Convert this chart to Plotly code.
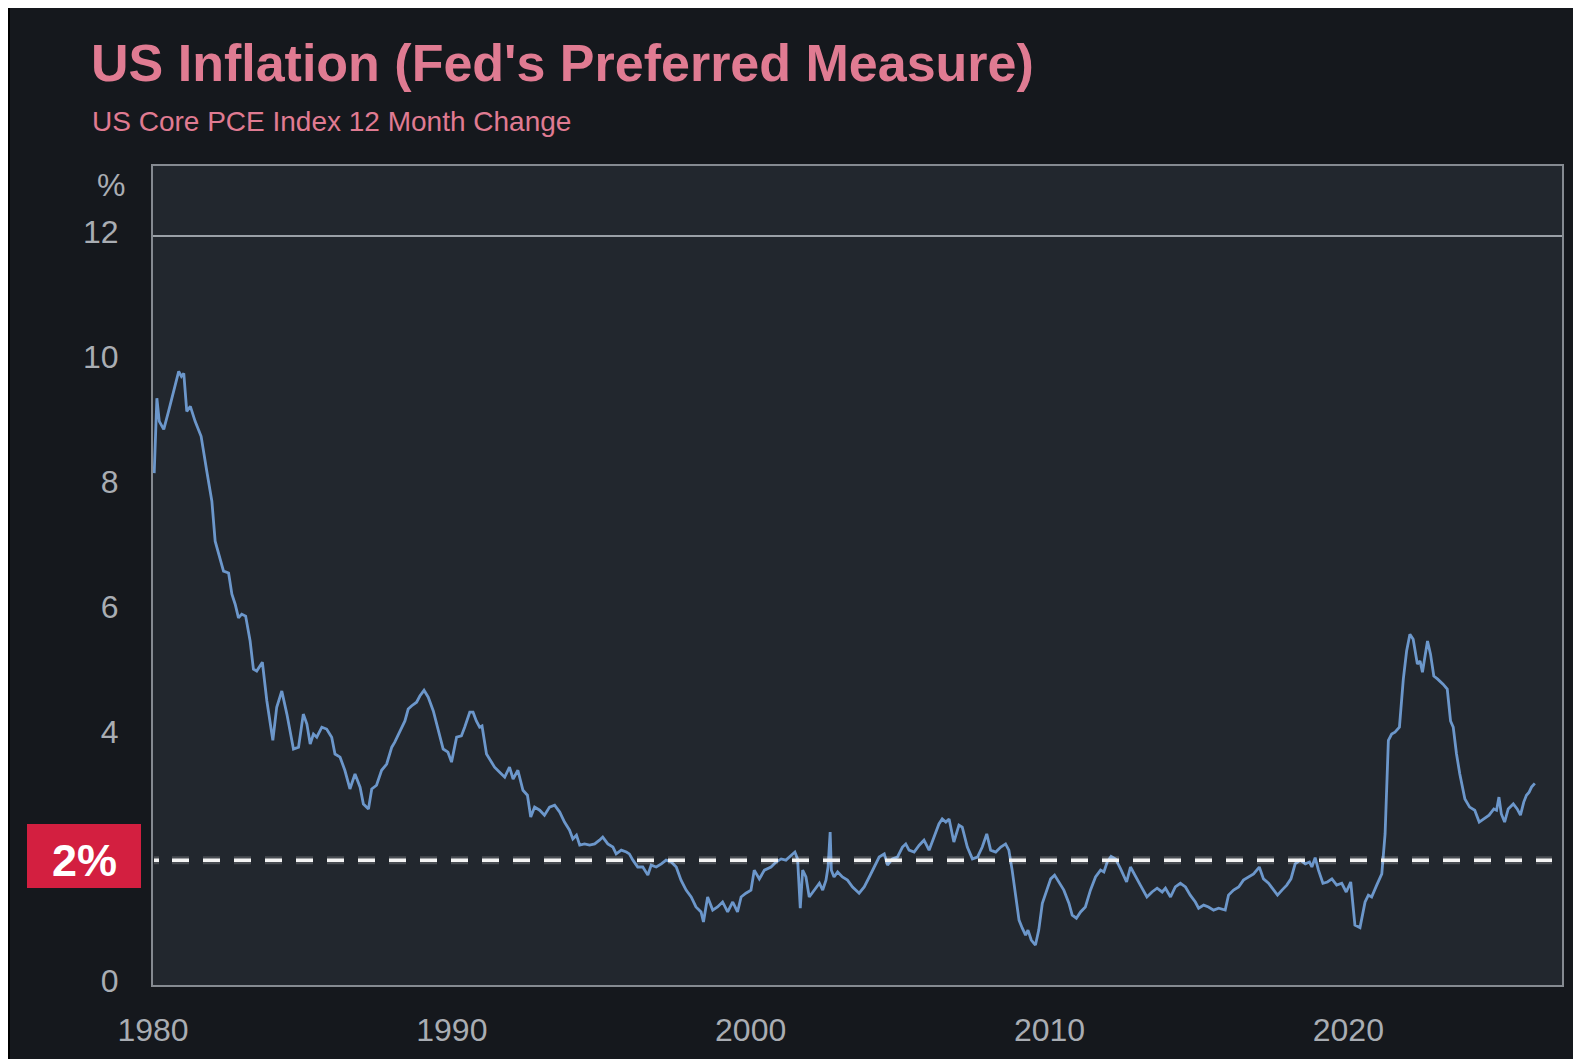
import plotly.graph_objects as go

# ---- data ----
years = [1980.04, 1980.13, 1980.21, 1980.36, 1980.52, 1980.69, 1980.86, 1980.95, 1981.03, 1981.13,
         1981.25, 1981.41, 1981.61, 1981.80, 1981.97, 1982.08, 1982.25, 1982.36, 1982.53, 1982.64,
         1982.75, 1982.86, 1982.97, 1983.10, 1983.25, 1983.36, 1983.47, 1983.66, 1983.81, 1984.01,
         1984.14, 1984.31, 1984.48, 1984.70, 1984.87, 1985.03, 1985.15, 1985.26, 1985.37, 1985.48,
         1985.65, 1985.81, 1985.98, 1986.09, 1986.26, 1986.42, 1986.59, 1986.76, 1986.93, 1987.04,
         1987.21, 1987.32, 1987.48, 1987.65, 1987.82, 1987.99, 1988.09, 1988.26, 1988.43, 1988.54,
         1988.65, 1988.82, 1988.93, 1989.07, 1989.21, 1989.38, 1989.54, 1989.71, 1989.87, 1989.99,
         1990.16, 1990.32, 1990.43, 1990.60, 1990.71, 1990.82, 1990.93, 1991.01, 1991.16, 1991.27,
         1991.43, 1991.60, 1991.77, 1991.93, 1992.05, 1992.21, 1992.38, 1992.53, 1992.64, 1992.77,
         1992.94, 1993.10, 1993.27, 1993.44, 1993.61, 1993.77, 1993.94, 1994.05, 1994.17, 1994.28,
         1994.44, 1994.61, 1994.78, 1994.94, 1995.05, 1995.22, 1995.39, 1995.50, 1995.67, 1995.84,
         1995.94, 1996.06, 1996.22, 1996.39, 1996.56, 1996.67, 1996.84, 1997.01, 1997.17, 1997.34,
         1997.51, 1997.67, 1997.84, 1998.01, 1998.17, 1998.34, 1998.42, 1998.56, 1998.73, 1998.89,
         1999.06, 1999.23, 1999.40, 1999.56, 1999.68, 1999.84, 2000.01, 2000.12, 2000.29, 2000.46,
         2000.68, 2000.85, 2001.02, 2001.18, 2001.35, 2001.48, 2001.57, 2001.66, 2001.74, 2001.85,
         2001.96, 2002.13, 2002.30, 2002.41, 2002.52, 2002.59, 2002.66, 2002.70, 2002.79, 2002.91,
         2003.07, 2003.24, 2003.41, 2003.63, 2003.80, 2003.97, 2004.13, 2004.30, 2004.47, 2004.58,
         2004.74, 2004.91, 2005.08, 2005.19, 2005.30, 2005.47, 2005.64, 2005.80, 2005.97, 2006.14,
         2006.30, 2006.41, 2006.53, 2006.64, 2006.80, 2006.97, 2007.08, 2007.25, 2007.42, 2007.59,
         2007.75, 2007.90, 2008.03, 2008.20, 2008.37, 2008.53, 2008.64, 2008.75, 2008.87, 2008.98,
         2009.09, 2009.20, 2009.28, 2009.39, 2009.53, 2009.64, 2009.76, 2009.87, 2010.04, 2010.17,
         2010.31, 2010.48, 2010.65, 2010.76, 2010.90, 2011.04, 2011.20, 2011.37, 2011.54, 2011.71,
         2011.82, 2011.93, 2012.06, 2012.21, 2012.38, 2012.58, 2012.71, 2012.88, 2013.04, 2013.26,
         2013.43, 2013.60, 2013.77, 2013.88, 2014.05, 2014.21, 2014.38, 2014.55, 2014.71, 2014.88,
         2014.99, 2015.16, 2015.32, 2015.49, 2015.66, 2015.88, 2015.99, 2016.16, 2016.33, 2016.49,
         2016.66, 2016.83, 2017.02, 2017.16, 2017.33, 2017.50, 2017.63, 2017.78, 2017.94, 2018.08,
         2018.22, 2018.39, 2018.56, 2018.70, 2018.78, 2018.89, 2019.00, 2019.15, 2019.30, 2019.45,
         2019.61, 2019.78, 2019.93, 2020.08, 2020.22, 2020.39, 2020.56, 2020.67, 2020.78, 2020.95,
         2021.12, 2021.23, 2021.34, 2021.45, 2021.56, 2021.71, 2021.84, 2021.95, 2022.06, 2022.17,
         2022.31, 2022.40, 2022.48, 2022.56, 2022.65, 2022.75, 2022.86, 2022.99, 2023.17, 2023.31,
         2023.42, 2023.51, 2023.62, 2023.73, 2023.90, 2024.06, 2024.23, 2024.38, 2024.53, 2024.71,
         2024.87, 2024.96, 2025.04, 2025.12, 2025.23, 2025.35, 2025.52, 2025.65, 2025.76, 2025.87,
         2025.96, 2026.05, 2026.13, 2026.24]

core_pce = [8.20, 9.40, 9.03, 8.90, 9.19, 9.51, 9.83, 9.75, 9.80, 9.19,
            9.27, 9.03, 8.79, 8.23, 7.75, 7.11, 6.84, 6.63, 6.60, 6.26,
            6.10, 5.88, 5.94, 5.91, 5.51, 5.06, 5.03, 5.17, 4.55, 3.92,
            4.45, 4.71, 4.34, 3.78, 3.81, 4.34, 4.18, 3.86, 4.02, 3.97,
            4.13, 4.10, 3.97, 3.70, 3.65, 3.44, 3.14, 3.38, 3.17, 2.90,
            2.82, 3.14, 3.20, 3.44, 3.54, 3.81, 3.89, 4.07, 4.23, 4.42,
            4.47, 4.53, 4.63, 4.72, 4.61, 4.39, 4.07, 3.78, 3.73, 3.57,
            3.97, 3.99, 4.13, 4.37, 4.37, 4.23, 4.13, 4.15, 3.70, 3.62,
            3.49, 3.41, 3.33, 3.49, 3.30, 3.44, 3.12, 3.04, 2.69, 2.85,
            2.80, 2.72, 2.85, 2.88, 2.77, 2.61, 2.48, 2.34, 2.40, 2.24,
            2.26, 2.24, 2.26, 2.32, 2.37, 2.26, 2.21, 2.10, 2.16, 2.13,
            2.10, 2.00, 1.89, 1.89, 1.76, 1.92, 1.89, 1.94, 2.00, 1.97,
            1.89, 1.68, 1.52, 1.41, 1.25, 1.17, 1.01, 1.41, 1.20, 1.25,
            1.33, 1.17, 1.33, 1.17, 1.41, 1.47, 1.52, 1.84, 1.70, 1.84,
            1.89, 1.97, 2.02, 2.00, 2.08, 2.13, 2.02, 1.23, 1.84, 1.73,
            1.41, 1.52, 1.63, 1.52, 1.68, 1.89, 2.45, 1.84, 1.73, 1.81,
            1.73, 1.68, 1.57, 1.47, 1.57, 1.73, 1.89, 2.05, 2.10, 1.92,
            2.02, 2.05, 2.21, 2.26, 2.16, 2.13, 2.24, 2.32, 2.16, 2.37,
            2.58, 2.66, 2.61, 2.66, 2.29, 2.56, 2.53, 2.21, 2.02, 2.05,
            2.21, 2.42, 2.16, 2.13, 2.21, 2.26, 2.16, 1.84, 1.41, 1.04,
            0.91, 0.80, 0.88, 0.72, 0.64, 0.88, 1.31, 1.47, 1.70, 1.76,
            1.65, 1.52, 1.31, 1.12, 1.07, 1.17, 1.25, 1.52, 1.73, 1.84,
            1.81, 1.97, 2.06, 2.02, 1.86, 1.65, 1.89, 1.73, 1.60, 1.41,
            1.49, 1.55, 1.49, 1.55, 1.41, 1.57, 1.63, 1.57, 1.44, 1.33,
            1.23, 1.28, 1.25, 1.20, 1.23, 1.20, 1.44, 1.52, 1.57, 1.68,
            1.73, 1.78, 1.89, 1.70, 1.63, 1.52, 1.44, 1.52, 1.60, 1.70,
            1.94, 2.00, 1.94, 1.97, 1.89, 2.04, 1.84, 1.63, 1.65, 1.70,
            1.60, 1.63, 1.49, 1.65, 0.96, 0.92, 1.33, 1.44, 1.41, 1.60,
            1.78, 2.42, 3.92, 4.02, 4.05, 4.13, 4.90, 5.35, 5.62, 5.54,
            5.14, 5.19, 5.01, 5.25, 5.51, 5.30, 4.95, 4.90, 4.82, 4.74,
            4.23, 4.13, 3.70, 3.38, 2.98, 2.85, 2.80, 2.61, 2.66, 2.72,
            2.82, 2.80, 3.01, 2.74, 2.61, 2.82, 2.90, 2.82, 2.72, 2.93,
            3.04, 3.09, 3.17, 3.23]

x_ticks = [1980, 1990, 2000, 2010, 2020]
x_tick_labels = ["1980", "1990", "2000", "2010", "2020"]
y_ticks = [0, 4, 6, 8, 10, 12]
y_tick_labels = ["0", "4", "6", "8", "10", "12"]
target = 2

title_text = "US Inflation (Fed's Preferred Measure)"
subtitle_text = "US Core PCE Index 12 Month Change"

# ---- layout geometry (page pixels; the page body adds an 8px offset) ----
OFF = 8
W, H = 1581 - OFF, 1059 - OFF
ML, MR, MT, MB = 153 - OFF, 19, 166 - OFF, 74
PW, PH = W - ML - MR, H - MT - MB

def px_x(p):
    return (p - OFF - ML) / PW

def px_y(p):
    return (OFF + H - MB - p) / PH

PAPER = "#15181d"
PLOT = "#22272e"
BORDER = "#858a91"
GRID = "#9aa0a7"
PINK = "#e07b92"
TICK = "#a9adb3"
LINE = "#6c97cb"
RED = "#d31f40"
FONT = "Liberation Sans, Arial, sans-serif"

fig = go.Figure()
fig.add_trace(go.Scatter(x=years, y=core_pce, mode="lines",
                         line=dict(color=LINE, width=2.8), hoverinfo="skip",
                         showlegend=False))

dash_pattern = "5px,13px," + ",".join(["17px,14px"] * 46)

shapes = [
    dict(type="line", xref="paper", yref="y", x0=0, x1=1, y0=12, y1=12,
         line=dict(color=GRID, width=2), layer="below"),
    dict(type="line", xref="paper", yref="y", x0=px_x(154), x1=px_x(1552), y0=target, y1=target,
         line=dict(color="rgba(255,255,255,0.18)", width=8, dash=dash_pattern), layer="above"),
    dict(type="line", xref="paper", yref="y", x0=px_x(154), x1=px_x(1552), y0=target, y1=target,
         line=dict(color="#f4f4f4", width=3.5, dash=dash_pattern), layer="above"),
    dict(type="rect", xref="paper", yref="paper", x0=px_x(27), x1=px_x(141),
         y0=px_y(888), y1=px_y(824), fillcolor=RED, line=dict(width=0), layer="above"),
    dict(type="rect", xref="paper", yref="paper", x0=px_x(OFF), x1=px_x(10),
         y0=px_y(1059), y1=px_y(OFF), fillcolor="#000000", line=dict(width=0), layer="above"),
]

annotations = [
    dict(text="<b>" + title_text + "</b>", xref="paper", yref="paper",
         x=px_x(89), y=px_y(63), xanchor="left", yanchor="middle", showarrow=False,
         font=dict(family=FONT, size=52, color=PINK)),
    dict(text=subtitle_text, xref="paper", yref="paper",
         x=px_x(90), y=px_y(122), xanchor="left", yanchor="middle", showarrow=False,
         font=dict(family=FONT, size=28, color=PINK)),
    dict(text="%", xref="paper", yref="paper", x=px_x(127), y=px_y(185),
         xanchor="right", yanchor="middle", showarrow=False,
         font=dict(family=FONT, size=32, color=TICK)),
    dict(text="<b>2%</b>", xref="paper", yref="y", x=px_x(84), y=target,
         xanchor="center", yanchor="middle", showarrow=False,
         font=dict(family=FONT, size=45, color="#ffffff")),
]

fig.update_layout(
    width=W, height=H,
    margin=dict(l=ML, r=MR, t=MT, b=MB, pad=0),
    paper_bgcolor=PAPER, plot_bgcolor=PLOT,
    shapes=shapes, annotations=annotations,
    showlegend=False,
    xaxis=dict(range=[1980, 2027.15], tickvals=x_ticks, ticktext=x_tick_labels,
               showgrid=False, zeroline=False, showline=True, mirror=True,
               linecolor=BORDER, linewidth=2, ticks="", ticklabelstandoff=16,
               tickfont=dict(family=FONT, size=32, color=TICK)),
    yaxis=dict(range=[0, 13.12], tickvals=y_ticks, ticktext=y_tick_labels,
               showgrid=False, zeroline=False, showline=True, mirror=True,
               linecolor=BORDER, linewidth=2, ticks="", ticklabelstandoff=26,
               ticklabelshift=-4,
               tickfont=dict(family=FONT, size=32, color=TICK)),
)

fig.write_html("out.html")
